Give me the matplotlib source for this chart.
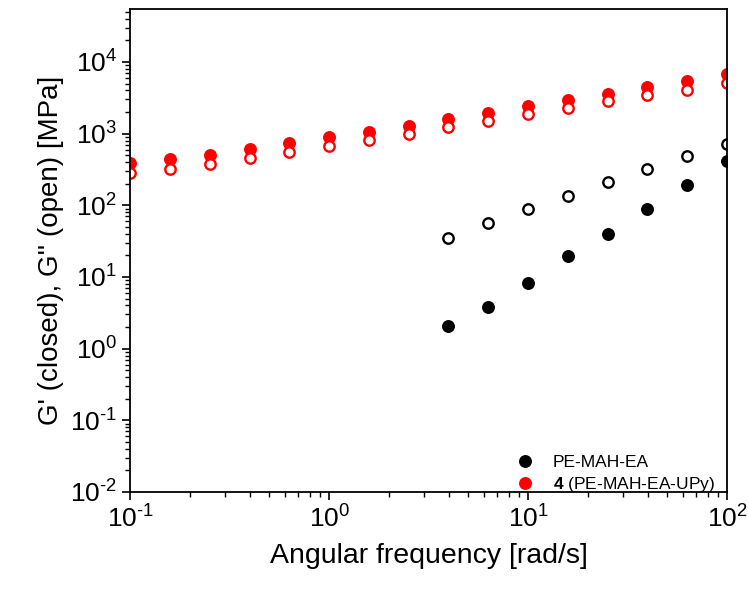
import matplotlib
matplotlib.use("Agg")
import matplotlib.pyplot as plt
import matplotlib.ticker as mticker
import numpy as np

plt.rcParams['font.family'] = ['Liberation Sans', 'DejaVu Sans']
plt.rcParams['mathtext.fontset'] = 'custom'
plt.rcParams['mathtext.rm'] = 'Liberation Sans'
plt.rcParams['mathtext.bf'] = 'Liberation Sans:bold'
plt.rcParams['mathtext.it'] = 'Liberation Sans:italic'
plt.rcParams['axes.unicode_minus'] = False

freq_red = [0.1, 0.158, 0.251, 0.398, 0.631, 1.0, 1.58, 2.51, 3.98, 6.31, 10, 15.8, 25.1, 39.8, 63.1, 100]
gp_red = [385, 437, 510, 611, 733, 888, 1050, 1290, 1600, 1960, 2400, 2920, 3620, 4400, 5500, 6700]
gpp_red = [280, 325, 377, 457, 553, 671, 824, 990, 1230, 1520, 1900, 2280, 2820, 3430, 4100, 5050]

freq_black = [3.98, 6.31, 10, 15.8, 25.1, 39.8, 63.1, 100]
gp_black = [2.05, 3.8, 8.2, 19.6, 40, 89, 190, 410]
gpp_black = [35, 56, 88, 136, 211, 320, 490, 725]

fig = plt.figure(figsize=(7.48, 5.92), dpi=100)
ax = fig.add_axes([0.174, 0.169, 0.798, 0.816])

ms = 8.3
ax.plot(freq_black, gp_black, 'o', color='black', ms=ms, label='PE-MAH-EA')
ax.plot(freq_black, gpp_black, 'o', color='black', mfc='white', mew=1.7, ms=ms - 0.8)
ax.plot(freq_red, gp_red, 'o', color='red', ms=ms, label=r'$\mathbf{4}$ (PE-MAH-EA-UPy)')
ax.plot(freq_red, gpp_red, 'o', color='red', mfc='white', mew=1.7, ms=ms - 0.8)

ax.set_xscale('log')
ax.set_yscale('log')
ax.set_xlim(0.1, 100)
ax.set_ylim(1e-2, 5.5e4)


def pow_fmt(v, pos):
    e = int(round(np.log10(v)))
    if e < 0:
        return r'$10^{\text{-}%d}$' % (-e)
    return r'$10^{%d}$' % e


ax.set_xlabel('Angular frequency [rad/s]', fontsize=20.5, labelpad=8)
ax.set_ylabel("G' (closed), G'' (open) [MPa]", fontsize=20, labelpad=4)

ax.tick_params(axis='both', which='major', direction='out', length=6, width=1.2, labelsize=19)
ax.tick_params(axis='both', which='minor', direction='out', length=3.5, width=1)
ax.tick_params(top=False, right=False, which='both')
ax.yaxis.set_major_locator(mticker.LogLocator(base=10, numticks=20))
ax.yaxis.set_minor_locator(mticker.LogLocator(base=10, subs=np.arange(2, 10), numticks=20))
ax.xaxis.set_major_formatter(mticker.FuncFormatter(pow_fmt))
ax.yaxis.set_major_formatter(mticker.FuncFormatter(pow_fmt))
for s in ax.spines.values():
    s.set_linewidth(1.3)

leg = ax.legend(loc='lower right', frameon=False, fontsize=12.5, handletextpad=0.6,
                borderaxespad=0.3, labelspacing=0.3, markerscale=1.0,
                bbox_to_anchor=(1.0, -0.03))

fig.savefig('out.png', dpi=100)
